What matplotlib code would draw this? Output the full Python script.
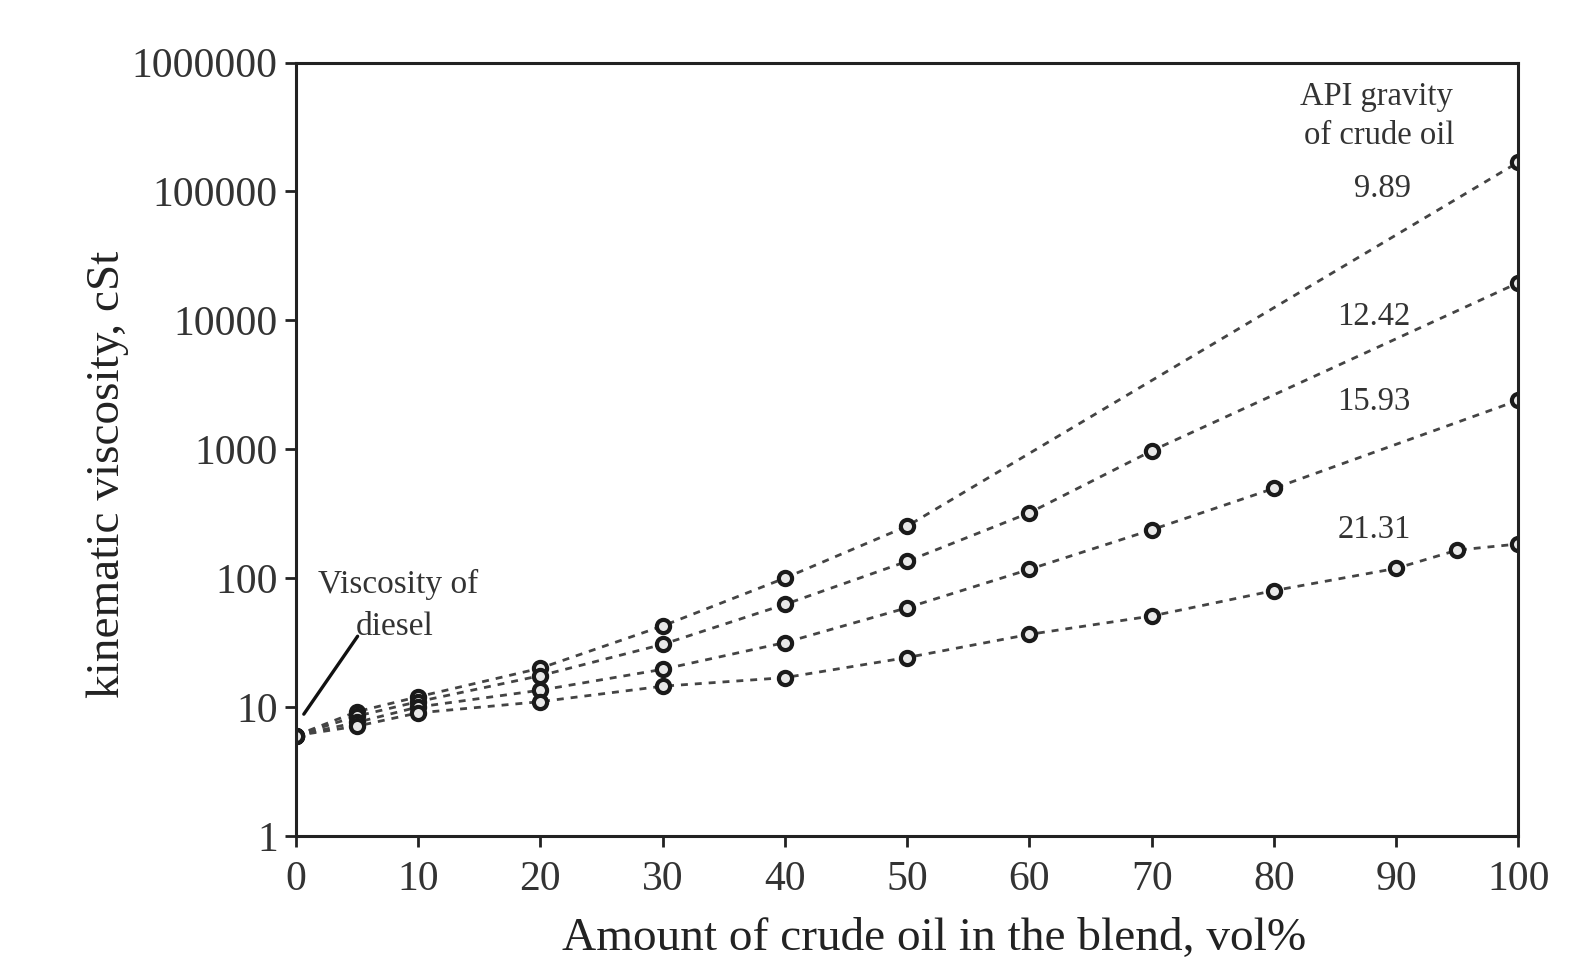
import matplotlib.pyplot as plt
from matplotlib.ticker import FixedLocator, FuncFormatter, NullLocator

plt.rcParams['font.family'] = ['Liberation Serif', 'DejaVu Serif']

# API gravity of crude oil -> (vol% crude, viscosity cSt)
api_labels = ['9.89', '12.42', '15.93', '21.31']

x_989 = [0, 5, 10, 20, 30, 40, 50, 100]
v_989 = [6.0, 9.2, 12.0, 20.0, 42.5, 100, 253, 169000]

x_1242 = [0, 5, 10, 20, 30, 40, 50, 60, 70, 100]
v_1242 = [6.0, 8.5, 11.0, 17.5, 30.6, 62.5, 135, 321, 971, 19600]

x_1593 = [0, 5, 10, 20, 30, 40, 50, 60, 70, 80, 100]
v_1593 = [6.0, 7.6, 10.0, 13.5, 19.6, 31.6, 58.9, 117, 237, 497, 2400]

x_2131 = [0, 5, 10, 20, 30, 40, 50, 60, 70, 80, 90, 95, 100]
v_2131 = [6.0, 7.1, 9.0, 11.0, 14.5, 16.9, 24.2, 36.6, 50.8, 80, 119, 165, 184]

x_ticks = [0, 10, 20, 30, 40, 50, 60, 70, 80, 90, 100]
y_ticks = [1, 10, 100, 1000, 10000, 100000, 1000000]

txt_col = '#333333'

fig = plt.figure(figsize=(15.9, 9.63), dpi=100)
ax = fig.add_axes([0.186, 0.132, 0.769, 0.803])

for xs, vs in [(x_989, v_989), (x_1242, v_1242), (x_1593, v_1593), (x_2131, v_2131)]:
    ax.plot(xs, vs, ls=(0, (2.5, 2.5)), color='#444444', lw=2,
            marker='o', ms=9.5, mfc='#e8e8e8', mec='#1a1a1a', mew=3)

ax.set_yscale('log')
ax.set_xlim(0, 100)
ax.set_ylim(1, 1000000)
ax.xaxis.set_major_locator(FixedLocator(x_ticks))
ax.yaxis.set_major_locator(FixedLocator(y_ticks))
ax.yaxis.set_minor_locator(NullLocator())
ax.yaxis.set_major_formatter(FuncFormatter(lambda v, p: '%d' % v))
ax.tick_params(direction='out', length=8, width=2, labelsize=30,
               labelcolor=txt_col, color='#222222')
ax.tick_params(axis='x', pad=10)
ax.tick_params(axis='y', pad=5)

for s in ax.spines.values():
    s.set_linewidth(2.2)
    s.set_color('#222222')

# labels sit a bit off-centre in the original
ax.set_xlabel('Amount of crude oil in the blend, vol%', fontsize=34, color='#222222',
              labelpad=13, x=0.522)
ax.set_ylabel('kinematic viscosity, cSt', fontsize=34, color='#222222',
              labelpad=2, y=0.467)

# series labels
ax.text(88.4, 540000, 'API gravity', fontsize=23.5, color=txt_col, ha='center', va='center')
ax.text(88.6, 270000, 'of crude oil', fontsize=23.5, color=txt_col, ha='center', va='center')
ax.text(88.9, 105000, api_labels[0], fontsize=23.5, color=txt_col, ha='center', va='center')
ax.text(88.2, 10600, api_labels[1], fontsize=23.5, color=txt_col, ha='center', va='center')
ax.text(88.2, 2320, api_labels[2], fontsize=23.5, color=txt_col, ha='center', va='center')
ax.text(88.2, 237, api_labels[3], fontsize=23.5, color=txt_col, ha='center', va='center')

ax.text(8.4, 89, 'Viscosity of', fontsize=24, color=txt_col, ha='center', va='center')
ax.text(8.1, 41.6, 'diesel', fontsize=24, color=txt_col, ha='center', va='center')
ax.annotate('', xy=(0.66, 8.8), xytext=(5.06, 35.4),
            arrowprops=dict(arrowstyle='-', color='#111111', lw=2.4,
                            shrinkA=0, shrinkB=0))

fig.savefig('out.png', dpi=100)
